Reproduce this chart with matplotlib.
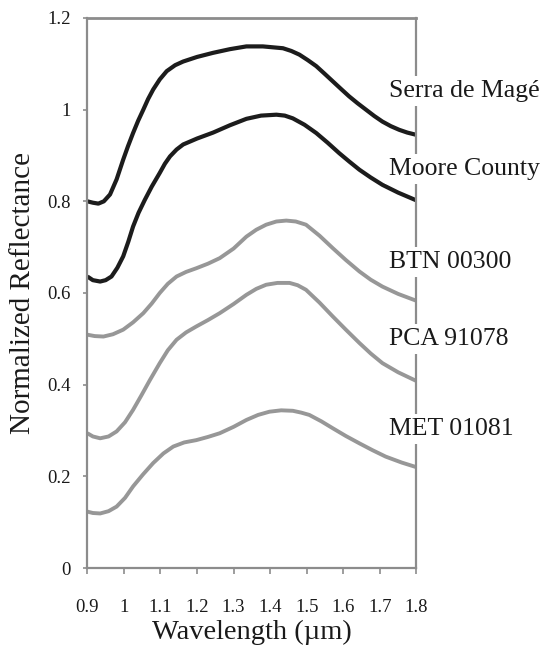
import numpy as np
import matplotlib
matplotlib.use("Agg")
import matplotlib.pyplot as plt

plt.rcParams['font.family'] = ['Liberation Serif', 'DejaVu Serif']

# spectra (wavelength in um, normalized reflectance)
serra_x = [0.90, 0.915, 0.93, 0.945, 0.962, 0.98, 0.998, 1.011, 1.025, 1.039, 1.053, 1.066,
           1.08, 1.098, 1.117, 1.14, 1.162, 1.20, 1.244, 1.29, 1.335, 1.38, 1.435, 1.458,
           1.48, 1.503, 1.526, 1.548, 1.571, 1.594, 1.616, 1.639, 1.662, 1.685, 1.707,
           1.73, 1.753, 1.775, 1.80]
serra_y = [0.800, 0.797, 0.795, 0.800, 0.815, 0.848, 0.891, 0.920, 0.949, 0.976, 1.000, 1.023,
           1.044, 1.066, 1.084, 1.097, 1.105, 1.115, 1.124, 1.132, 1.138, 1.138, 1.134, 1.128,
           1.120, 1.108, 1.095, 1.079, 1.062, 1.045, 1.029, 1.014, 1.000, 0.986, 0.974,
           0.964, 0.956, 0.950, 0.945]

moore_x = [0.90, 0.915, 0.935, 0.95, 0.966, 0.982, 0.998, 1.012, 1.025, 1.04, 1.057, 1.076,
           1.098, 1.112, 1.126, 1.144, 1.162, 1.20, 1.244, 1.29, 1.335, 1.375, 1.417, 1.44,
           1.462, 1.494, 1.526, 1.557, 1.589, 1.616, 1.644, 1.675, 1.707, 1.75, 1.80]
moore_y = [0.636, 0.628, 0.625, 0.628, 0.636, 0.655, 0.680, 0.712, 0.745, 0.775, 0.803, 0.832,
           0.862, 0.882, 0.898, 0.913, 0.924, 0.937, 0.950, 0.966, 0.980, 0.987, 0.989, 0.987,
           0.981, 0.967, 0.949, 0.928, 0.905, 0.887, 0.869, 0.852, 0.836, 0.819, 0.802]

btn_x = [0.90, 0.92, 0.944, 0.97, 0.998, 1.025, 1.053, 1.076, 1.098, 1.12, 1.144, 1.17,
         1.198, 1.23, 1.262, 1.30, 1.335, 1.362, 1.389, 1.417, 1.444, 1.47, 1.498, 1.535,
         1.571, 1.607, 1.644, 1.675, 1.707, 1.75, 1.80]
btn_y = [0.509, 0.506, 0.505, 0.510, 0.520, 0.536, 0.556, 0.577, 0.600, 0.620, 0.636, 0.646,
         0.654, 0.664, 0.676, 0.697, 0.723, 0.738, 0.749, 0.756, 0.758, 0.756, 0.749, 0.725,
         0.698, 0.672, 0.647, 0.629, 0.614, 0.598, 0.583]

pca_x = [0.90, 0.915, 0.935, 0.958, 0.98, 1.003, 1.025, 1.048, 1.071, 1.098, 1.12, 1.144,
         1.17, 1.198, 1.23, 1.262, 1.30, 1.335, 1.362, 1.389, 1.42, 1.453, 1.475, 1.498,
         1.535, 1.571, 1.607, 1.644, 1.675, 1.707, 1.75, 1.80]
pca_y = [0.294, 0.287, 0.283, 0.287, 0.298, 0.318, 0.345, 0.377, 0.410, 0.447, 0.475, 0.498,
         0.514, 0.527, 0.541, 0.556, 0.576, 0.596, 0.609, 0.618, 0.622, 0.622, 0.617, 0.607,
         0.579, 0.549, 0.520, 0.491, 0.468, 0.447, 0.427, 0.408]

met_x = [0.90, 0.915, 0.935, 0.958, 0.98, 1.003, 1.025, 1.052, 1.08, 1.108, 1.135, 1.165,
         1.198, 1.23, 1.262, 1.30, 1.335, 1.367, 1.398, 1.43, 1.462, 1.485, 1.507, 1.54,
         1.571, 1.607, 1.644, 1.68, 1.716, 1.76, 1.80]
met_y = [0.123, 0.120, 0.119, 0.124, 0.134, 0.153, 0.178, 0.204, 0.229, 0.250, 0.265, 0.274,
         0.279, 0.286, 0.294, 0.308, 0.323, 0.334, 0.341, 0.344, 0.343, 0.339, 0.334, 0.320,
         0.305, 0.288, 0.272, 0.257, 0.243, 0.230, 0.220]

names = ['Serra de Magé', 'Moore County', 'BTN 00300', 'PCA 91078', 'MET 01081']
label_y = [1.028, 0.858, 0.655, 0.487, 0.290]
xticks = [0.9, 1.0, 1.1, 1.2, 1.3, 1.4, 1.5, 1.6, 1.7, 1.8]
xticklabels = ['0.9', '1', '1.1', '1.2', '1.3', '1.4', '1.5', '1.6', '1.7', '1.8']
yticks = [0, 0.2, 0.4, 0.6, 0.8, 1.0, 1.2]
yticklabels = ['0', '0.2', '0.4', '0.6', '0.8', '1', '1.2']

black = '#1c1c1c'
grey = '#979797'
spine_col = '#8c8c8c'

fig = plt.figure(figsize=(5.53, 6.47), dpi=100)
ax = fig.add_axes([0.158, 0.1221, 0.595, 0.8501])

ax.plot(serra_x, serra_y, color=black, lw=3.0, solid_capstyle='butt', solid_joinstyle='round')
ax.plot(moore_x, moore_y, color=black, lw=3.0, solid_capstyle='butt', solid_joinstyle='round')
ax.plot(btn_x, btn_y, color=grey, lw=2.8, solid_capstyle='butt', solid_joinstyle='round')
ax.plot(pca_x, pca_y, color=grey, lw=2.8, solid_capstyle='butt', solid_joinstyle='round')
ax.plot(met_x, met_y, color=grey, lw=2.8, solid_capstyle='butt', solid_joinstyle='round')

for name, ly in zip(names, label_y):
    ax.text(1.7255, ly, name, fontsize=18.5, va='baseline', ha='left', color='#1a1a1a',
            zorder=5, clip_on=False,
            bbox=dict(facecolor='white', edgecolor='none', pad=3))

ax.set_xlim(0.9, 1.8)
ax.set_ylim(0, 1.2)
ax.set_xticks(xticks)
ax.set_xticklabels(xticklabels)
ax.set_yticks(yticks)
ax.set_yticklabels(yticklabels)

for s in ax.spines.values():
    s.set_color(spine_col)
    s.set_linewidth(1.6)
ax.spines['top'].set_linewidth(2.0)

ax.tick_params(axis='x', direction='out', length=4, width=1.2, color=spine_col,
               labelsize=13.5, pad=18, labelcolor='#1a1a1a')
ax.tick_params(axis='y', direction='out', length=3, width=1.2, color=spine_col,
               labelsize=13.5, pad=9, labelcolor='#1a1a1a')

ax.set_xlabel('Wavelength (µm)', fontsize=20.5, labelpad=3, color='#1a1a1a')
ax.set_ylabel('Normalized Reflectance', fontsize=21, labelpad=8, color='#1a1a1a')

fig.savefig('out.png', dpi=100)
